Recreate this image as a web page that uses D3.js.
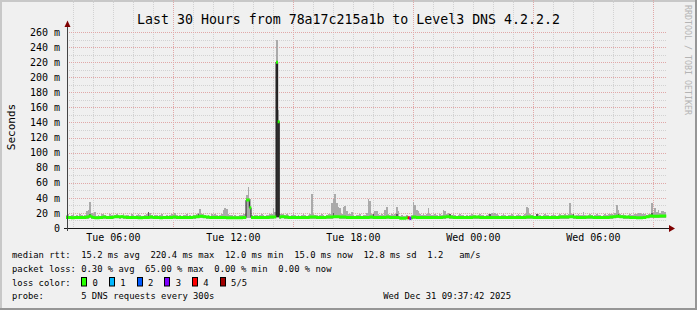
<!DOCTYPE html>
<html>
<head>
<meta charset="utf-8">
<script src="https://cdn.jsdelivr.net/npm/d3@7"></script>
<style>
body { margin: 0; background: #f0f0f0; }
svg { display: block; font-family: "DejaVu Sans Mono", monospace; }
text { white-space: pre; }
</style>
</head>
<body>
<svg width="697" height="310"></svg>
<script>
// 5 minute steps, 30 hours ending Wed Dec 31 09:37:42
var start = new Date(2025, 11, 30, 3, 38),
    end = new Date(2025, 11, 31, 9, 38),
    stepMin = 5;

var median = [
    14, 14, 14, 13.5, 13.5, 14, 14, 14, 14, 14, 14, 14, 14.5, 15, 16, 14.5, 14, 13.5, 13.5, 13.5,
    14, 14, 14.5, 14.5, 14, 14, 14, 14, 14.5, 15, 15, 15, 15, 15, 14.5, 14.5, 14, 14, 14, 14,
    14, 14, 14, 13.5, 13.5, 13.5, 14, 14, 14, 14, 14.5, 14.5, 14, 14, 14, 14, 13.5, 13.5, 14, 14,
    14, 14, 14, 14, 14.5, 14.5, 14, 14, 14, 14, 14, 14, 14, 14, 14, 14, 14.5, 14.5, 15, 15,
    15.5, 15.5, 15, 15, 14.5, 14.5, 14, 14, 14, 14, 14, 14, 14, 14, 14, 14, 13.5, 13.5, 13.5, 13.5,
    13.5, 13.5, 13.5, 13.5, 13.5, 13.5, 14, 14, 37, 37, 27, 14, 14, 14, 14, 14, 14, 14, 14, 14,
    14, 14, 14.5, 14.5, 14.5, 14.5, 220, 141, 14.5, 15, 15, 14.5, 14.5, 14, 14, 14, 14, 14, 14, 14,
    14, 14, 14, 14, 14, 14, 14.5, 14.5, 14.5, 14.5, 14, 14, 14, 14, 14, 14, 14.5, 14.5, 14.5, 14.5,
    15, 15, 15, 15, 14.5, 14.5, 14.5, 14.5, 14, 14, 14, 14, 14, 14, 14, 14, 14, 14, 14, 14,
    14, 14, 14.5, 14.5, 14, 14, 14, 14, 14, 14, 14, 14, 14.5, 14.5, 14, 14, 14, 14, 14, 14,
    13, 13, 13, 13, 13.5, 13.5, 12.5, 13.5, 14.5, 14.5, 14, 14, 14, 14, 14, 14, 14, 14, 14, 14,
    14, 14, 14, 14, 14, 14, 14.5, 14.5, 15, 15, 14.5, 14.5, 14, 14, 14, 14, 14, 14, 14, 14,
    14, 14, 14, 14, 14.5, 14.5, 14.5, 14.5, 14, 14, 14, 14, 14, 14, 14, 14, 14, 14, 14, 14,
    14, 14, 14, 14, 14, 14, 14, 14, 14, 14, 14, 14, 14, 14, 14, 14, 14.5, 14.5, 14.5, 14.5,
    14, 14, 14, 14, 14, 14, 14, 14, 14, 14, 14, 14, 14, 14, 14, 14, 14.5, 14.5, 14.5, 14.5,
    14.5, 14.5, 15, 15, 14.5, 14.5, 14, 14, 14, 14, 14, 14, 14.5, 14.5, 14.5, 14.5, 14, 14, 14, 14,
    14, 14, 14, 14, 14, 14, 14.5, 14.5, 15, 15, 15.5, 15.5, 15, 15, 14.5, 14.5, 14.5, 14.5, 14, 14,
    14, 14, 13.5, 13.5, 13.5, 13.5, 14, 14, 15, 15, 16, 16, 15.5, 15.5, 15.5, 15.5, 16, 16, 16, 16
];

var maxPing = [
    17, 18, 16, 17, 18, 16, 17, 16, 18, 17, 16, 17, 22, 24, 34, 20, 18, 21, 16, 17,
    16, 19, 18, 17, 16, 16, 18, 17, 16, 17, 18, 17, 16, 17, 18, 16, 17, 17, 16, 18,
    17, 16, 17, 18, 17, 16, 16, 17, 18, 21, 20, 17, 16, 17, 17, 16, 17, 18, 16, 16,
    17, 16, 17, 18, 17, 20, 17, 16, 17, 16, 17, 17, 18, 16, 17, 16, 17, 17, 18, 20,
    25, 19, 18, 17, 16, 17, 16, 18, 17, 19, 17, 16, 17, 18, 24, 27, 25, 18, 17, 17,
    16, 17, 16, 16, 17, 17, 18, 18, 44, 54, 38, 17, 16, 17, 17, 16, 17, 18, 17, 16,
    17, 17, 18, 19, 26, 21, 249, 156, 19, 18, 18, 17, 18, 17, 16, 17, 18, 17, 16, 17,
    16, 17, 18, 17, 16, 17, 18, 45, 18, 17, 17, 16, 17, 18, 17, 16, 17, 18, 19, 33,
    38, 45, 33, 28, 27, 19, 28, 29, 22, 19, 18, 21, 17, 16, 17, 17, 18, 16, 17, 17,
    20, 38, 36, 18, 19, 23, 22, 18, 17, 18, 17, 24, 28, 19, 17, 18, 17, 18, 28, 23,
    16, 17, 16, 16, 17, 16, 16, 17, 35, 30, 24, 23, 18, 17, 18, 17, 19, 27, 18, 17,
    17, 18, 17, 16, 18, 17, 24, 23, 19, 20, 18, 17, 18, 17, 16, 17, 18, 17, 17, 16,
    17, 16, 17, 18, 17, 17, 16, 17, 18, 17, 17, 16, 17, 18, 17, 20, 19, 20, 18, 17,
    16, 17, 18, 17, 16, 17, 17, 18, 17, 16, 17, 18, 17, 16, 17, 18, 28, 26, 19, 17,
    17, 16, 17, 18, 17, 16, 17, 18, 17, 17, 16, 17, 18, 17, 16, 17, 18, 17, 17, 18,
    17, 19, 33, 18, 17, 16, 17, 18, 17, 17, 21, 17, 16, 17, 18, 17, 16, 17, 18, 17,
    17, 16, 17, 18, 17, 18, 19, 18, 17, 20, 30, 24, 19, 17, 18, 17, 16, 17, 18, 17,
    17, 18, 19, 20, 20, 19, 20, 18, 17, 18, 19, 33, 20, 27, 21, 24, 20, 22, 22, 21
];

var minPing = [
    12.5, 12, 12, 12.5, 12, 12, 12.5, 12, 12, 12.5, 12, 12, 12.5, 12.5, 13, 12.5, 12, 12, 12, 12,
    12, 12.5, 12.5, 12, 12, 12, 12.5, 12, 12.5, 13, 13, 13, 12.5, 13, 12.5, 12.5, 12, 12, 12.5, 12,
    12, 12, 12.5, 12, 12, 12, 12, 12.5, 12, 12, 12.5, 12.5, 12, 12, 12.5, 12, 12, 12, 12, 12.5,
    12, 12.5, 12, 12, 12.5, 12.5, 12, 12, 12, 12.5, 12, 12, 12, 12.5, 12, 12, 12.5, 12.5, 13, 13,
    13, 13.5, 13, 13, 12.5, 12.5, 12, 12, 12.5, 12, 12, 12, 12, 12.5, 12, 12, 12, 12, 12, 12,
    12, 12, 12, 12, 12, 12, 12, 12.5, 13, 13, 13, 12.5, 12, 12, 12.5, 12, 12, 12, 12.5, 12,
    12, 12.5, 12.5, 12.5, 12.5, 13, 13, 13, 12.5, 13, 13, 12.5, 12.5, 12, 12, 12.5, 12, 12, 12, 12,
    12, 12.5, 12, 12, 12, 12, 12.5, 12.5, 12.5, 12.5, 12, 12, 12.5, 12, 12, 12, 12.5, 12.5, 12.5, 12.5,
    13, 13, 13, 13, 12.5, 12.5, 12.5, 12.5, 12, 12, 12, 12.5, 12, 12, 12, 12, 12.5, 12, 12, 12,
    12, 12, 12.5, 12.5, 12, 12, 12, 12.5, 12, 12, 12, 12, 12.5, 12.5, 12, 12, 12, 12.5, 12, 12,
    12, 12, 12, 12, 12, 12, 12, 12, 12.5, 12.5, 12, 12, 12, 12.5, 12, 12, 12, 12, 12.5, 12,
    12, 12, 12.5, 12, 12, 12, 12.5, 12.5, 13, 13, 12.5, 12.5, 12, 12, 12.5, 12, 12, 12, 12, 12.5,
    12, 12, 12, 12.5, 12.5, 12.5, 12.5, 12.5, 12, 12, 12, 12.5, 12, 12, 12, 12, 12.5, 12, 12, 12,
    12, 12.5, 12, 12, 12, 12, 12, 12.5, 12, 12, 12, 12, 12.5, 12, 12, 12, 12.5, 12.5, 12.5, 12.5,
    12, 12, 12.5, 12, 12, 12, 12, 12.5, 12, 12, 12.5, 12, 12, 12, 12, 12, 12.5, 12.5, 12.5, 12.5,
    12.5, 12.5, 13, 13, 12.5, 12.5, 12, 12, 12.5, 12, 12, 12, 12.5, 12.5, 12.5, 12.5, 12, 12, 12.5, 12,
    12, 12, 12.5, 12, 12, 12, 12.5, 12.5, 13, 13, 13.5, 13.5, 13, 13, 12.5, 12.5, 12.5, 12.5, 12, 12,
    12, 12, 12, 12, 12, 12, 12, 12.5, 13, 13, 13.5, 13.5, 13.5, 13.5, 13.5, 13.5, 13.5, 13.5, 13.5, 13.5
];

// inner pings (darker smoke) where they show outside the median line
var darkBins = [14, 49, 79, 126, 127, 160, 184, 198, 230, 254, 282, 304, 331, 351],
    darkLo = [14, 15, 15, 14, 14, 16, 15, 15, 15, 15, 15, 15, 16, 16],
    darkHi = [19, 21, 19, 221, 142, 20, 18, 18, 18, 18, 18, 18, 19, 20];

var lossBins = [205, 206],
    lossLevel = [4, 3];

var lossColors = ['#26ff00', '#00b8ff', '#0059ff', '#7e00ff', '#ff0000', '#a00000'],
    lossLabels = ['0', '1', '2', '3', '4', '5/5'];

var yTicks = [0, 20, 40, 60, 80, 100, 120, 140, 160, 180, 200, 220, 240, 260],
    yMinor = [10, 30, 50, 70, 90, 110, 130, 150, 170, 190, 210, 230, 250];

var title = 'Last 30 Hours from 78a17c215a1b to Level3 DNS 4.2.2.2',
    legendRtt = 'median rtt:  15.2 ms avg  220.4 ms max  12.0 ms min  15.0 ms now  12.8 ms sd  1.2   am/s',
    legendLoss = 'packet loss: 0.30 % avg  65.00 % max  0.00 % min  0.00 % now',
    legendProbe = 'probe:       5 DNS requests every 300s',
    stamp = 'Wed Dec 31 09:37:42 2025';

var svg = d3.select('svg'),
    W = 697,
    H = 310,
    left = 67,
    right = 667,
    top = 27,
    bottom = 228,
    charW = 5.33;

var x = d3.scaleTime().domain([start, end]).range([66, 666]),
    y = d3.scaleLinear().domain([0, 260]).range([bottom, 32]);

drawFrame();
drawGrid();
drawSmoke();
drawMedian();
drawAxes();
drawLabels();
drawLegend();

function stepStart(i) {
    return d3.timeMinute.offset(start, i * stepMin);
}

function px(v) {
    return Math.round(v) + 0.5;
}

function drawFrame() {
    svg.append('rect').attr('width', W).attr('height', H).attr('fill', '#f0f0f0');
    svg.append('path').attr('d', 'M0,0H' + W + 'V2H2V' + H + 'H0Z').attr('fill', '#c8c8c8');
    svg.append('path').attr('d', 'M' + W + ',0V' + H + 'H0V' + (H - 2) + 'H' + (W - 2) + 'V0Z').attr('fill', '#969696');
    svg.append('rect')
        .attr('x', left).attr('y', top)
        .attr('width', right - left).attr('height', bottom - top)
        .attr('fill', '#ffffff');
}

function drawGrid() {
    var g = svg.append('g').attr('stroke-dasharray', '1,1').attr('shape-rendering', 'crispEdges');
    var hours = x.ticks(d3.timeHour.every(1)).filter(function(t) {
        return x(t) > left + 1;
    });
    hours.forEach(function(t) {
        var major = t.getHours() % 6 === 3;
        g.append('line')
            .attr('x1', px(x(t))).attr('x2', px(x(t)))
            .attr('y1', top).attr('y2', bottom)
            .attr('stroke', major ? '#e0a8a8' : '#d2d2d2');
    });
    yMinor.forEach(function(v) {
        g.append('line')
            .attr('x1', left).attr('x2', right)
            .attr('y1', px(y(v))).attr('y2', px(y(v)))
            .attr('stroke', '#d2d2d2');
    });
    yTicks.slice(1).forEach(function(v) {
        g.append('line')
            .attr('x1', left).attr('x2', right)
            .attr('y1', px(y(v))).attr('y2', px(y(v)))
            .attr('stroke', '#e0a8a8');
    });
}

function drawSmoke() {
    var g = svg.append('g').attr('shape-rendering', 'crispEdges');
    for (var i = 0, l = median.length; i < l; i++) {
        var x0 = x(stepStart(i)),
            x1 = x(stepStart(i + 1));
        g.append('rect')
            .attr('x', x0).attr('width', x1 - x0)
            .attr('y', y(maxPing[i])).attr('height', y(minPing[i]) - y(maxPing[i]))
            .attr('fill', '#aaaaaa');
    }
    for (var j = 0, jl = darkBins.length; j < jl; j++) {
        var a = x(stepStart(darkBins[j])),
            b = x(stepStart(darkBins[j] + 1)),
            tall = darkHi[j] - darkLo[j] > 50;
        g.append('rect')
            .attr('x', a).attr('width', b - a)
            .attr('y', y(darkHi[j])).attr('height', y(darkLo[j]) - y(darkHi[j]))
            .attr('fill', tall ? '#2e2e2e' : '#5e5e5e');
    }
}

function drawMedian() {
    var pts = median.map(function(v, i) {
        return [stepStart(i), v];
    });
    pts.push([end, median[median.length - 1]]);
    var line = d3.line()
        .x(function(d) { return x(d[0]); })
        .y(function(d) { return y(d[1]); })
        .curve(d3.curveStepAfter);
    svg.append('path')
        .attr('d', line(pts))
        .attr('fill', 'none')
        .attr('stroke', '#202020')
        .attr('stroke-width', 1);

    // one path per loss colour, horizontal pieces only
    var paths = {};
    for (var i = 0, l = median.length; i < l; i++) {
        var k = lossBins.indexOf(i),
            c = k < 0 ? lossColors[0] : lossColors[lossLevel[k]],
            x0 = x(stepStart(i)),
            x1 = x(stepStart(i + 1)),
            yy = y(median[i]);
        paths[c] = (paths[c] || '') + 'M' + x0 + ',' + yy + 'H' + (x1 + 0.3);
    }
    Object.keys(paths).forEach(function(c) {
        svg.append('path')
            .attr('d', paths[c])
            .attr('fill', 'none')
            .attr('stroke', c)
            .attr('stroke-width', 3);
    });
}

function drawAxes() {
    svg.append('line')
        .attr('x1', 64).attr('x2', 670)
        .attr('y1', bottom + 0.5).attr('y2', bottom + 0.5)
        .attr('stroke', '#1a1a1a');
    svg.append('line')
        .attr('x1', left + 0.5).attr('x2', left + 0.5)
        .attr('y1', bottom + 3).attr('y2', 24)
        .attr('stroke', '#444444');
    svg.append('path')
        .attr('d', 'M669,225L675,228.5L669,232Z')
        .attr('fill', '#7f0000');
    svg.append('path')
        .attr('d', 'M64.5,27L67.5,20.5L70.5,27Z')
        .attr('fill', '#7f0000');
}

function drawLabels() {
    svg.append('text')
        .attr('x', 348.5).attr('y', 24)
        .attr('text-anchor', 'middle')
        .attr('font-size', 13.25)
        .text(title);

    svg.selectAll('.ytick').data(yTicks).enter().append('text')
        .attr('class', 'ytick')
        .attr('x', 60).attr('y', function(d) { return y(d) + 3.7; })
        .attr('text-anchor', 'end')
        .attr('font-size', 10)
        .text(function(d) { return d === 0 ? '0' : d + ' m'; });

    var fmt = d3.timeFormat('%a %H:%M'),
        labels = x.ticks(d3.timeHour.every(1)).filter(function(t) {
            return t.getHours() % 6 === 0;
        });
    svg.selectAll('.xtick').data(labels).enter().append('text')
        .attr('class', 'xtick')
        .attr('x', function(d) { return x(d); })
        .attr('y', 241)
        .attr('text-anchor', 'middle')
        .attr('font-size', 10)
        .text(fmt);

    svg.append('text')
        .attr('transform', 'translate(14.5,127) rotate(-90)')
        .attr('text-anchor', 'middle')
        .attr('font-size', 11)
        .text('Seconds');

    svg.append('text')
        .attr('transform', 'translate(685,5) rotate(90)')
        .attr('font-size', 8.3)
        .attr('fill', '#b4b4b4')
        .text('RRDTOOL / TOBI OETIKER');
}

function drawLegend() {
    var g = svg.append('g').attr('font-size', 8.85),
        x0 = 12;
    g.append('text').attr('x', x0).attr('y', 258.2).text(legendRtt);
    g.append('text').attr('x', x0).attr('y', 271.7).text(legendLoss);
    g.append('text').attr('x', x0).attr('y', 285.5).text('loss color:');
    g.append('text').attr('x', x0).attr('y', 299.2).text(legendProbe);
    g.append('text').attr('x', 511).attr('y', 299.2).attr('text-anchor', 'end').text(stamp);

    for (var k = 0, l = lossColors.length; k < l; k++) {
        var bx = x0 + (13 + 5.2 * k) * charW;
        g.append('rect')
            .attr('x', Math.round(bx) + 0.5).attr('y', 277.5)
            .attr('width', 5).attr('height', 8.5)
            .attr('fill', lossColors[k])
            .attr('stroke', '#000000');
        g.append('text')
            .attr('x', bx + 2.1 * charW).attr('y', 285.5)
            .text(lossLabels[k]);
    }
}
</script>
</body>
</html>
